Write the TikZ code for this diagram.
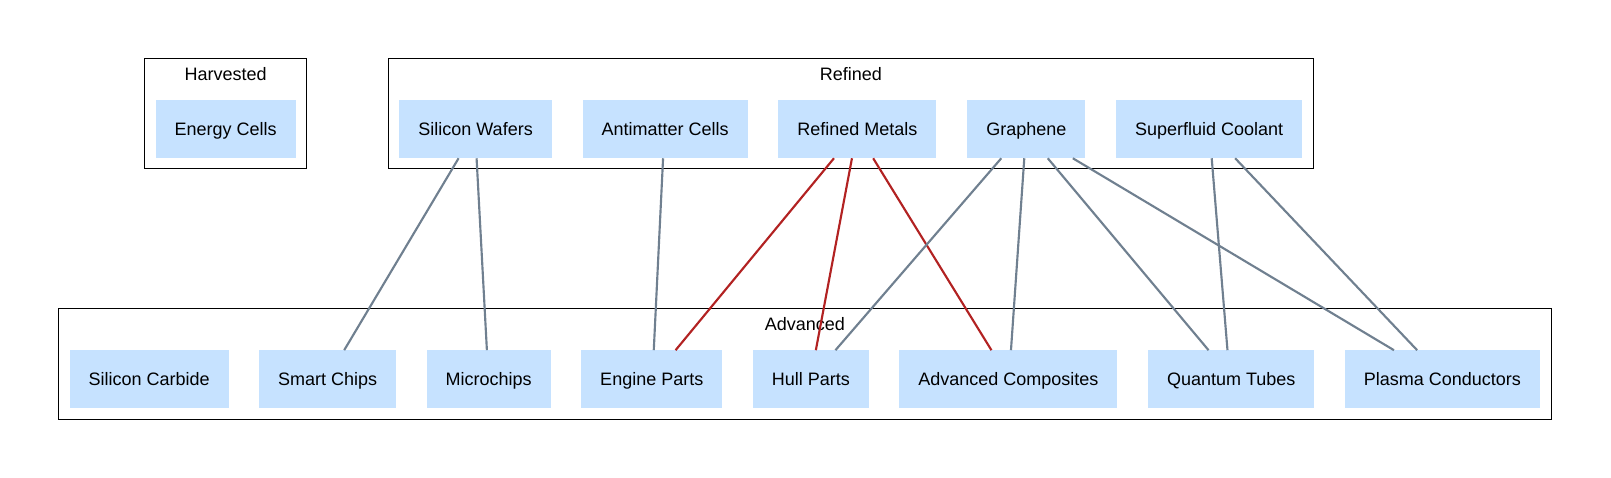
\documentclass[tikz,border=0pt]{standalone}
\usepackage{fontspec}
\setmainfont{Liberation Sans}
\usepackage{tikz}
\usetikzlibrary{positioning,fit}
\definecolor{itemblue}{HTML}{C6E2FF}
\definecolor{linkgray}{HTML}{708090}
\definecolor{linkred}{HTML}{B22222}

\begin{document}
\begin{tikzpicture}[
    node distance=22.6pt,
    box/.style={rectangle, fill=itemblue, inner xsep=14.2pt, minimum height=43.5pt, text height=9.7pt, text depth=0pt, font=\fontsize{13.5}{16}\selectfont},
    group/.style={rectangle, draw, line width=0.9pt, inner xsep=8.3pt, inner ysep=7.9pt},
    grouplabel/.style={inner sep=0pt, font=\fontsize{13.5}{16}\selectfont},
    link/.style={linkgray, line width=1.6pt},
    hotlink/.style={linkred, line width=1.6pt}
]
    \useasboundingbox (0,0) rectangle (1208.25pt,-358.5pt);

    \node[box, anchor=west] (h1) at (116.5pt,-96.75pt) {Energy Cells};

    \node[box, anchor=west] (r1) at (299.4pt,-96.75pt) {Silicon Wafers};
    \node[box, right=22.8pt of r1] (r2) {Antimatter Cells};
    \node[box, right=22.8pt of r2] (r3) {Refined Metals};
    \node[box, right=22.8pt of r3] (r4) {Graphene};
    \node[box, right=22.8pt of r4] (r5) {Superfluid Coolant};

    \node[box, anchor=west] (a1) at (52pt,-284.6pt) {Silicon Carbide};
    \node[box, right=of a1] (a2) {Smart Chips};
    \node[box, right=of a2] (a3) {Microchips};
    \node[box, right=of a3] (a4) {Engine Parts};
    \node[box, right=of a4] (a5) {Hull Parts};
    \node[box, right=of a5] (a6) {Advanced Composites};
    \node[box, right=of a6] (a7) {Quantum Tubes};
    \node[box, right=of a7] (a8) {Plasma Conductors};

    \node[group, fit={(h1) ([yshift=23.3pt]h1.north)}] (harvested) {};
    \node[grouplabel] (hlabel) at ([yshift=-12.2pt]harvested.north) {Harvested};
    \node[group, fit={(r1) (r5) ([yshift=23.3pt]r1.north)}] (refined) {};
    \node[grouplabel] (rlabel) at ([yshift=-12.2pt]refined.north) {Refined};
    \node[group, fit={(a1) (a8) ([yshift=23.3pt]a1.north)}] (advanced) {};
    \node[grouplabel] (alabel) at ([yshift=-12.2pt]advanced.north) {Advanced};

    \draw[link] ([xshift=-12.75pt]r1.south) -- ([xshift=12.4pt]a2.north);
    \draw[link] ([xshift=0.75pt]r1.south) -- ([xshift=-1.35pt]a3.north);
    \draw[link] ([xshift=-1.5pt]r2.south) -- ([xshift=1.5pt]a4.north);
    \draw[hotlink] ([xshift=-17.6pt]r3.south) -- ([xshift=17.85pt]a4.north);
    \draw[hotlink] ([xshift=-4.1pt]r3.south) -- ([xshift=3.75pt]a5.north);
    \draw[hotlink] ([xshift=11.8pt]r3.south) -- ([xshift=-12.75pt]a6.north);
    \draw[link] ([xshift=-18.75pt]r4.south) -- ([xshift=18.45pt]a5.north);
    \draw[link] ([xshift=-1.5pt]r4.south) -- ([xshift=1.9pt]a6.north);
    \draw[link] ([xshift=16.1pt]r4.south) -- ([xshift=-17pt]a7.north);
    \draw[link] ([xshift=34.9pt]r4.south) -- ([xshift=-36.4pt]a8.north);
    \draw[link] ([xshift=1.9pt]r5.south) -- ([xshift=-2.8pt]a7.north);
    \draw[link] ([xshift=19.5pt]r5.south) -- ([xshift=-19pt]a8.north);
\end{tikzpicture}
\end{document}
